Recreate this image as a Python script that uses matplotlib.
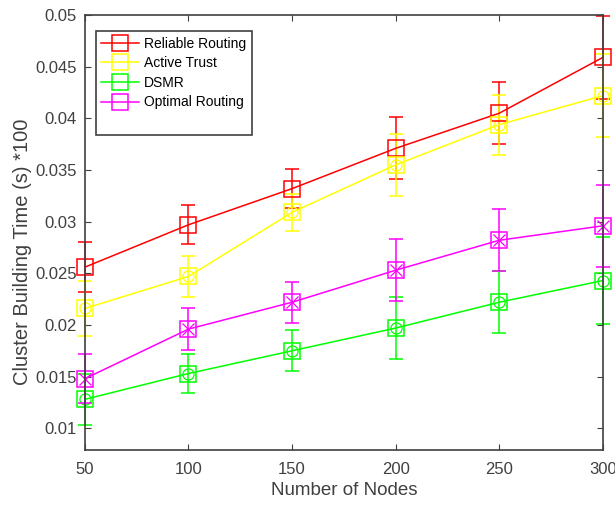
import numpy as np
import matplotlib
matplotlib.use('Agg')
import matplotlib.pyplot as plt
from matplotlib.lines import Line2D

plt.rcParams['font.family'] = ['Liberation Sans', 'DejaVu Sans']

nodes = [50, 100, 150, 200, 250, 300]
labels = ['Reliable Routing', 'Active Trust', 'DSMR', 'Optimal Routing']
reliable = [0.0256, 0.0297, 0.0332, 0.0371, 0.0405, 0.0459]
reliable_err = [0.0024, 0.0019, 0.0019, 0.0030, 0.0030, 0.0040]
active = [0.0216, 0.0247, 0.0309, 0.0355, 0.0394, 0.0422]
active_err = [0.0027, 0.0020, 0.0018, 0.0030, 0.0029, 0.0040]
dsmr = [0.0128, 0.0153, 0.0175, 0.0197, 0.0222, 0.0243]
dsmr_err = [0.0025, 0.0019, 0.0020, 0.0030, 0.0030, 0.0042]
optimal = [0.0148, 0.0196, 0.0222, 0.0253, 0.0282, 0.0296]
optimal_err = [0.0024, 0.0020, 0.0020, 0.0030, 0.0030, 0.0040]

series = [reliable, active, dsmr, optimal]
errors = [reliable_err, active_err, dsmr_err, optimal_err]
colors = ['#ff0000', '#ffff00', '#00ff00', '#ff00ff']
inner = [None, 'o', 'o', 'x']
gray = '#404040'

fig = plt.figure(figsize=(6.15, 5.05), dpi=100)
ax = fig.add_axes([0.138, 0.109, 0.842, 0.861])

handles = []
for ys, es, c, lab, im in zip(series, errors, colors, labels, inner):
    eb = ax.errorbar(nodes, ys, yerr=es, color=c, lw=1.1, elinewidth=1.1, capsize=5,
                     capthick=1.1, marker='s', ms=11, mfc='none', mec=c, mew=1.1)
    eb[0].set_clip_on(False)
    for art in eb[1] + eb[2]:
        art.set_clip_on(False)
    if im is not None:
        ax.plot(nodes, ys, ls='none', marker=im, ms=8, mfc='none', mec=c, mew=0.9,
                clip_on=False)
    handles.append(Line2D([], [], color=c, lw=1.1, marker='s', ms=11, mfc='none',
                          mec=c, mew=1.1, label=lab))
# blank row, the original legend box has empty space at the bottom
handles.append(Line2D([], [], color='none', label=' '))

ax.set_xlim(50, 300)
ax.set_ylim(0.0079, 0.05)
ax.set_xticks(nodes)
ax.set_yticks([0.01, 0.015, 0.02, 0.025, 0.03, 0.035, 0.04, 0.045, 0.05])
ax.set_yticklabels(['0.01', '0.015', '0.02', '0.025', '0.03', '0.035', '0.04', '0.045', '0.05'])
ax.tick_params(direction='in', top=True, right=True, labelsize=12, colors=gray,
               length=4)
ax.tick_params(axis='x', pad=9)
ax.tick_params(axis='y', pad=6)
for s in ax.spines.values():
    s.set_color(gray)
    s.set_linewidth(1.2)
ax.set_xlabel('Number of Nodes', fontsize=13.5, color=gray, labelpad=3)
ax.set_ylabel('Cluster Building Time (s) *100', fontsize=14.5, color=gray)
ax.yaxis.set_label_coords(-0.102, 0.455)

leg = ax.legend(handles=handles, loc='upper left', bbox_to_anchor=(0.021, 0.963),
                fontsize=10, fancybox=False, edgecolor=gray, framealpha=1,
                borderpad=0.4, labelspacing=0.4, handlelength=2.7,
                handletextpad=0.4, borderaxespad=0)
leg.get_frame().set_linewidth(1.2)

plt.savefig('out.png', dpi=100)
